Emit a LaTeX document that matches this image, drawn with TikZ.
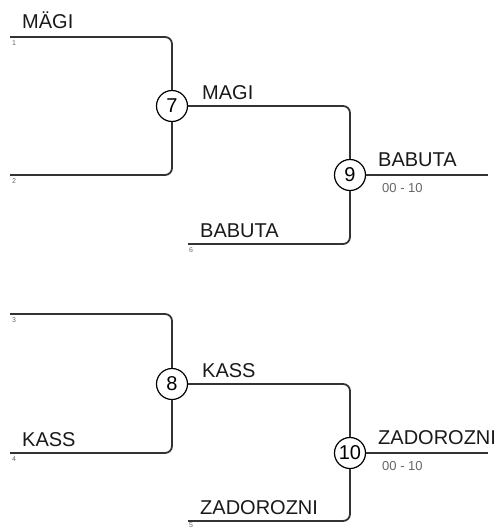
\documentclass[tikz,border=0pt]{standalone}
\usepackage{fontspec}
\setmainfont{Liberation Sans}
\begin{document}
\begin{tikzpicture}[x=1pt,y=-1pt,
  bline/.style={draw=black!80,line width=1.8pt,rounded corners=7pt},
  gamecirc/.style={circle,draw=black,line width=1.2pt,fill=white,minimum size=31pt,inner sep=0pt,font=\fontsize{20}{20}\selectfont},
  plabel/.style={anchor=base west,inner sep=0pt,font=\fontsize{20}{20}\selectfont,text=black!90},
  seedno/.style={anchor=north west,inner sep=0pt,font=\fontsize{7}{7}\selectfont,text=black!60},
  scoretxt/.style={anchor=west,inner sep=0pt,font=\fontsize{13}{13}\selectfont,text=black!60}]
\useasboundingbox (0,0) rectangle (499,528);
% start / end coordinates
\coordinate (s1) at (10,37);
\coordinate (s2) at (10,175);
\coordinate (s6) at (188,244);
\coordinate (s3) at (10,314);
\coordinate (s4) at (10,453);
\coordinate (s5) at (188,521);
\coordinate (e9) at (488,175);
\coordinate (e10) at (488,453);
% games
\node[gamecirc] (c7) at (172,106) {7};
\node[gamecirc] (c9) at (350,175) {9};
\node[gamecirc] (c8) at (172,384) {8};
\node[gamecirc] (c10) at (350,453) {10};
% connectors
\draw[bline] (s1) -| (c7);
\draw[bline] (s2) -| (c7);
\draw[bline] (c7) -| (c9);
\draw[bline] (s6) -| (c9);
\draw[bline] (c9) -- (e9);
\draw[bline] (s3) -| (c8);
\draw[bline] (s4) -| (c8);
\draw[bline] (c8) -| (c10);
\draw[bline] (s5) -| (c10);
\draw[bline] (c10) -- (e10);
% names
\node[plabel] (n1) at (22,28) {MÄGI};
\node[plabel] (n7) at (202,99) {MAGI};
\node[plabel] (n9) at (378,166) {BABUTA};
\node[plabel] (n6) at (200,237) {BABUTA};
\node[plabel] (n8) at (202,377) {KASS};
\node[plabel] (n4) at (22,446) {KASS};
\node[plabel] (n10) at (378,444) {ZADOROZNI};
\node[plabel] (n5) at (200,514) {ZADOROZNI};
% scores
\node[scoretxt] (sc9) at (382,188) {00 - 10};
\node[scoretxt] (sc10) at (382,466) {00 - 10};
% seeds
\node[seedno] (d1) at (12,40) {1};
\node[seedno] (d2) at (12,178) {2};
\node[seedno] (d6) at (189,247) {6};
\node[seedno] (d3) at (12,317) {3};
\node[seedno] (d4) at (12,456) {4};
\node[seedno,anchor=south west] (d5) at (189,527.5) {5};
\end{tikzpicture}
\end{document}
